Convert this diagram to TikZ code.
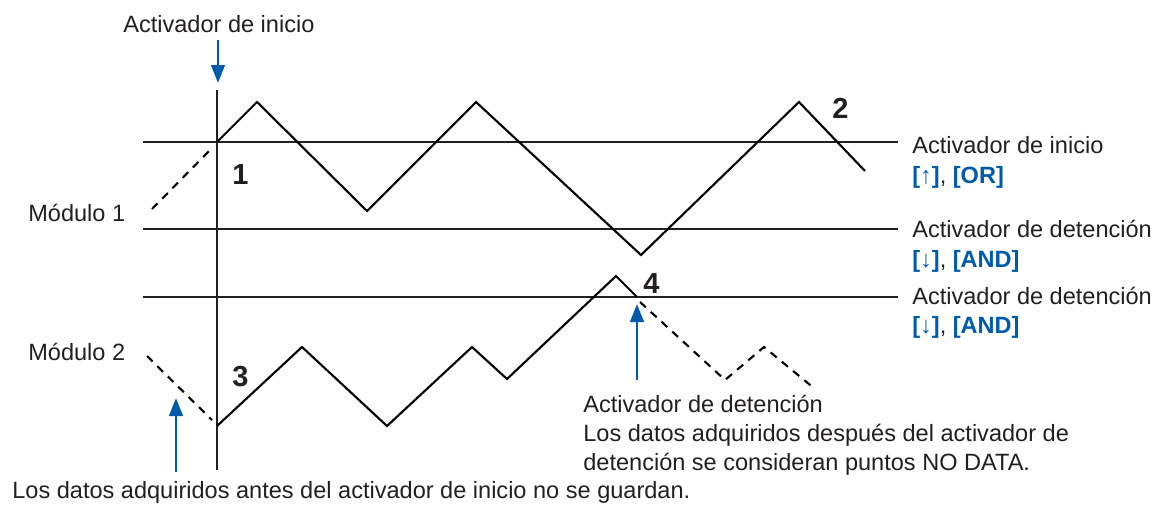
\documentclass[tikz,border=0pt]{standalone}
\usepackage{fontspec}
\setmainfont{Liberation Sans}
\usetikzlibrary{arrows.meta,positioning}
\usepackage{xcolor}
\definecolor{trgblue}{RGB}{0,91,172}
\definecolor{txtgray}{RGB}{35,31,32}

\begin{document}
\begin{tikzpicture}[x=0.02cm, y=-0.02cm, >={Triangle[length=0.36cm,width=0.27cm]},
  every node/.style={font=\fontsize{13.4}{16}\selectfont, text=txtgray, inner sep=0pt, anchor=base west},
  gridline/.style={line width=0.7pt, txtgray},
  wave/.style={line width=1.2pt, line join=miter},
  prewave/.style={line width=1.2pt, dash pattern=on 4.5pt off 3.8pt},
  trgarrow/.style={->, line width=1.6pt, trgblue},
  num/.style={font=\fontsize{16.5}{18}\selectfont\bfseries}]
  \useasboundingbox (0,0) rectangle (1165,504);
  \draw[gridline] (217,90) -- (217,470);
  \draw[gridline] (143,142) -- (898,142);
  \draw[gridline] (143,229) -- (898,229);
  \draw[gridline] (143,297) -- (898,297);
  \draw[prewave] (152,209) -- (213,147);
  \draw[wave] (217,142) -- (257,102) -- (367,211) -- (476,102) -- (641,255) -- (799,102) -- (865,171);
  \draw[prewave] (147,356) -- (212,420);
  \draw[wave] (217,426) -- (302,347) -- (387,426) -- (472,347) -- (507,379) -- (616,276) -- (637,297);
  \draw[prewave] (640,302) -- (725,380) -- (764,347) -- (815,389);
  \node[num] (n1) at (232,184) {1};
  \node[num] (n2) at (832,118) {2};
  \node[num] (n3) at (232,386) {3};
  \node[num] (n4) at (643,293) {4};
  \node (toplbl) at (123,32) {Activador de inicio};
  \node (mod1) at (28,221) {Módulo 1};
  \node (mod2) at (28,360) {Módulo 2};
  \node (startlbl) at (912,153) {Activador de inicio};
  \node (startcond) at (912,183) {\textcolor{trgblue}{\textbf{[↑]}}, \textcolor{trgblue}{\textbf{[OR]}}};
  \node (stoplbl1) at (912,237) {Activador de detención};
  \node (stopcond1) at (912,267) {\textcolor{trgblue}{\textbf{[↓]}}, \textcolor{trgblue}{\textbf{[AND]}}};
  \node (stoplbl2) at (912,304) {Activador de detención};
  \node (stopcond2) at (912,333) {\textcolor{trgblue}{\textbf{[↓]}}, \textcolor{trgblue}{\textbf{[AND]}}};
  \node (stopnote1) at (583,412) {Activador de detención};
  \node (stopnote2) at (583,441) {Los datos adquiridos después del activador de};
  \node (stopnote3) at (583,470) {detención se consideran puntos NO DATA.};
  \node (prenote) at (12,498) {Los datos adquiridos antes del activador de inicio no se guardan.};
  \coordinate (sa) at (218,40);  \coordinate (sb) at (218,83);
  \coordinate (pa) at (176,472); \coordinate (pb) at (176,398);
  \coordinate (ta) at (637,380); \coordinate (tb) at (637,304);
  \draw[trgarrow] (sa) -- (sb);
  \draw[trgarrow] (pa) -- (pb);
  \draw[trgarrow] (ta) -- (tb);
\end{tikzpicture}
\end{document}
